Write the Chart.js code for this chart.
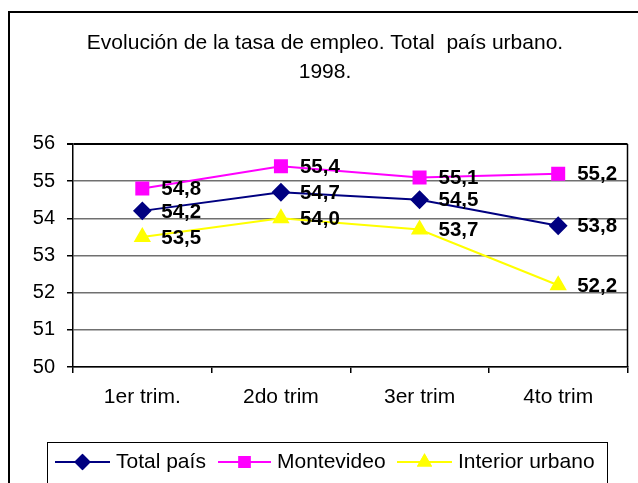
<!DOCTYPE html>
<html>
<head>
<meta charset="utf-8">
<script src="https://cdn.jsdelivr.net/npm/chart.js@4.4.1/dist/chart.umd.min.js"></script>
<style>
  html, body { margin: 0; padding: 0; background: #fff; }
  #wrap { width: 638px; height: 483px; position: relative; }
</style>
</head>
<body>
<div id="wrap"><canvas id="c" width="638" height="483"></canvas></div>
<script>
const categories = ['1er trim.', '2do trim', '3er trim', '4to trim'];
const totalPais = [54.2, 54.7, 54.5, 53.8];
const montevideo = [54.8, 55.4, 55.1, 55.2];
const interiorUrbano = [53.5, 54.0, 53.7, 52.2];
const seriesNames = ['Total país', 'Montevideo', 'Interior urbano'];
const titleLines = ['Evolución de la tasa de empleo. Total  país urbano.', '1998.'];
const yMin = 50, yMax = 56, yStep = 1;

const FONT = "'Liberation Sans', Arial, sans-serif";

const framePlugin = {
  id: 'frame',
  afterLayout(chart) {
    if (chart.titleBlock) {
      chart.titleBlock.left += 9;
      chart.titleBlock.right += 9;
    }
  },
  beforeDraw(chart) {
    const ctx = chart.ctx;
    ctx.save();
    ctx.fillStyle = '#fff';
    ctx.fillRect(0, 0, chart.width, chart.height);
    ctx.strokeStyle = '#000';
    ctx.lineWidth = 2;
    ctx.strokeRect(9, 12, 700, 600);
    ctx.restore();
  },
  afterDatasetsDraw(chart) {
    const ctx = chart.ctx;
    const a = chart.chartArea;
    ctx.save();
    ctx.strokeStyle = '#000';
    ctx.lineWidth = 1.5;
    ctx.beginPath();
    ctx.moveTo(a.right, a.top);
    ctx.lineTo(a.right, a.bottom);
    ctx.stroke();
    ctx.restore();
  }
};

const labelPlugin = {
  id: 'valueLabels',
  afterDatasetsDraw(chart) {
    const ctx = chart.ctx;
    ctx.save();
    ctx.font = 'bold 20.5px ' + FONT;
    ctx.fillStyle = '#000';
    ctx.textAlign = 'left';
    ctx.textBaseline = 'middle';
    chart.data.datasets.forEach((ds, i) => {
      const meta = chart.getDatasetMeta(i);
      meta.data.forEach((pt, j) => {
        const txt = ds.data[j].toFixed(1).replace('.', ',');
        ctx.fillText(txt, pt.x + 19, pt.y + 1);
      });
    });
    ctx.restore();
  }
};

const legendPlugin = {
  id: 'customLegend',
  afterDraw(chart) {
    const ctx = chart.ctx;
    ctx.save();
    ctx.strokeStyle = '#000';
    ctx.lineWidth = 1;
    ctx.strokeRect(47.5, 442.5, 560, 60);
    const y = 462;
    const items = [
      { x0: 55, x1: 110, tx: 116 },
      { x0: 218, x1: 271, tx: 277 },
      { x0: 397, x1: 452, tx: 458 }
    ];
    chart.data.datasets.forEach((ds, i) => {
      const it = items[i];
      ctx.strokeStyle = ds.borderColor;
      ctx.lineWidth = ds.borderWidth;
      ctx.beginPath();
      ctx.moveTo(it.x0, y);
      ctx.lineTo(it.x1, y);
      ctx.stroke();
      Chart.helpers.drawPoint(ctx, {
        pointStyle: ds.pointStyle,
        radius: ds.pointRadius * 0.85,
        borderWidth: 1
      }, (it.x0 + it.x1) / 2, y);
      ctx.fillStyle = ds.pointBackgroundColor;
      ctx.strokeStyle = ds.pointBorderColor;
      ctx.fill();
      ctx.stroke();
      ctx.fillStyle = '#000';
      ctx.font = '21px ' + FONT;
      ctx.textAlign = 'left';
      ctx.textBaseline = 'middle';
      ctx.fillText(ds.label, it.tx, y);
    });
    ctx.restore();
  }
};

new Chart(document.getElementById('c'), {
  type: 'line',
  data: {
    labels: categories,
    datasets: [
      {
        label: seriesNames[0], data: totalPais,
        borderColor: '#000080', borderWidth: 2,
        pointStyle: 'rectRot', pointRadius: 8,
        pointBackgroundColor: '#000080', pointBorderColor: '#000080'
      },
      {
        label: seriesNames[1], data: montevideo,
        borderColor: '#FF00FF', borderWidth: 2,
        pointStyle: 'rect', pointRadius: 8.5,
        pointBackgroundColor: '#FF00FF', pointBorderColor: '#FF00FF'
      },
      {
        label: seriesNames[2], data: interiorUrbano,
        borderColor: '#FFFF00', borderWidth: 2,
        pointStyle: 'triangle', pointRadius: 8,
        pointBackgroundColor: '#FFFF00', pointBorderColor: '#FFFF00'
      }
    ]
  },
  options: {
    responsive: false,
    animation: false,
    layout: { padding: { left: 0, right: 6, top: 0, bottom: 66 } },
    plugins: {
      legend: { display: false },
      tooltip: { enabled: false },
      title: {
        display: true,
        text: titleLines,
        color: '#000',
        font: { family: FONT, size: 21, weight: 'normal', lineHeight: 1.38 },
        padding: { top: 29, bottom: 57 }
      }
    },
    scales: {
      x: {
        offset: true,
        grid: { offset: true, drawOnChartArea: false, drawTicks: true, tickLength: 6, color: '#000', tickColor: '#000', lineWidth: 1.5 },
        border: { display: true, color: '#000', width: 1.5 },
        ticks: { color: '#000', font: { family: FONT, size: 21 }, padding: 12, maxRotation: 0 },
        afterFit(scale) { scale.height = 50; }
      },
      y: {
        min: yMin, max: yMax,
        ticks: { stepSize: yStep, color: '#000', font: { family: FONT, size: 20 }, padding: 12 },
        grid: {
          color: (c) => c.tick && c.tick.value === yMax ? '#000' : '#707070',
          lineWidth: (c) => c.tick && c.tick.value === yMax ? 2 : 1.5,
          tickColor: '#000', tickLength: 6
        },
        border: { display: true, color: '#000', width: 1.5 },
        afterFit(scale) { scale.width = 73; }
      }
    }
  },
  plugins: [framePlugin, labelPlugin, legendPlugin]
});
</script>
</body>
</html>
